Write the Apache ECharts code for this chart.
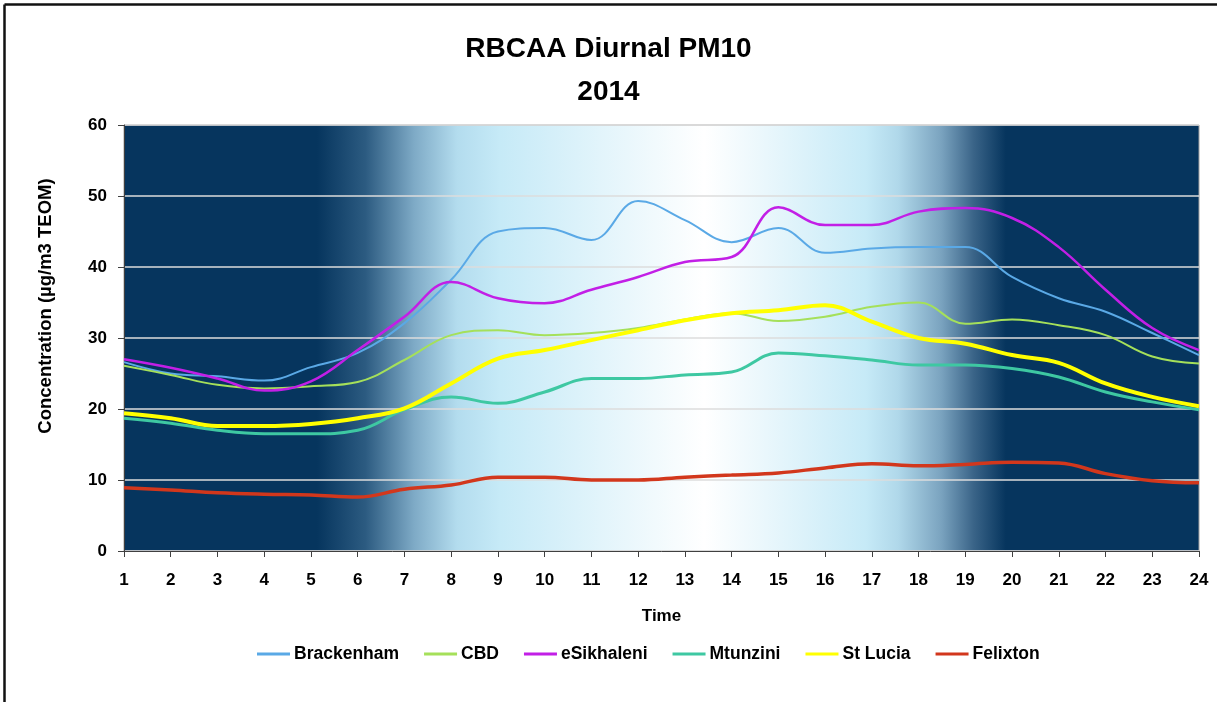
<!DOCTYPE html>
<html>
<head>
<meta charset="utf-8">
<style>
  html, body { margin: 0; padding: 0; background: #fff; }
  #chart { width: 1217px; height: 702px; }
</style>
<script src="https://cdn.jsdelivr.net/npm/echarts@6/dist/echarts.min.js"></script>
</head>
<body>
<div id="chart"></div>
<script>
var hours = ['1','2','3','4','5','6','7','8','9','10','11','12','13','14','15','16','17','18','19','20','21','22','23','24'];

var brackenham = [26.6, 25.0, 24.6, 24.0, 25.9, 27.9, 32.1, 38.2, 45.0, 45.5, 43.8, 49.3, 46.6, 43.5, 45.5, 42.0, 42.6, 42.8, 42.8, 38.6, 35.6, 33.7, 30.7, 27.6];
var cbd = [26.1, 24.8, 23.4, 22.9, 23.2, 23.8, 26.9, 30.4, 31.1, 30.4, 30.7, 31.4, 32.6, 33.5, 32.4, 33.0, 34.4, 35.0, 32.0, 32.6, 31.8, 30.4, 27.4, 26.4];
var esikhaleni = [27.0, 25.8, 24.3, 22.6, 23.9, 28.3, 33.0, 37.9, 35.6, 34.9, 36.8, 38.6, 40.7, 41.4, 48.4, 45.9, 45.9, 47.8, 48.3, 46.9, 42.8, 36.8, 31.4, 28.3];
var mtunzini = [18.7, 18.0, 17.0, 16.5, 16.5, 17.0, 19.9, 21.7, 20.8, 22.4, 24.3, 24.3, 24.8, 25.2, 27.9, 27.5, 26.9, 26.2, 26.2, 25.7, 24.5, 22.4, 21.0, 19.9];
var stLucia = [19.4, 18.7, 17.6, 17.6, 17.9, 18.7, 20.1, 23.6, 27.1, 28.3, 29.7, 31.1, 32.5, 33.5, 33.9, 34.6, 32.3, 30.0, 29.2, 27.6, 26.5, 23.6, 21.7, 20.4];
var felixton = [8.9, 8.6, 8.2, 8.0, 7.9, 7.6, 8.7, 9.3, 10.4, 10.4, 10.0, 10.0, 10.4, 10.7, 11.0, 11.7, 12.3, 12.0, 12.2, 12.5, 12.4, 10.9, 9.9, 9.6];

var seriesNames = ['Brackenham', 'CBD', 'eSikhaleni', 'Mtunzini', 'St Lucia', 'Felixton'];
var seriesData = [brackenham, cbd, esikhaleni, mtunzini, stLucia, felixton];
var seriesColors = ['#5aa9e6', '#a5e05a', '#c21fe6', '#3ec8a2', '#ffff00', '#d2371c'];
var seriesWidths = [2, 2, 2.5, 3, 4, 3.5];

var font = "'Liberation Sans', Arial, sans-serif";

var chart = echarts.init(document.getElementById('chart'));

// day/night shading behind the plot
var skyGradient = new echarts.graphic.LinearGradient(0, 0, 1, 0, [
    { offset: 0, color: '#06355e' },
    { offset: 0.18, color: '#06355e' },
    { offset: 0.225, color: '#2c5b81' },
    { offset: 0.27, color: '#7eaac6' },
    { offset: 0.31, color: '#b3dcee' },
    { offset: 0.35, color: '#c6eaf7' },
    { offset: 0.54, color: '#ffffff' },
    { offset: 0.69, color: '#c6eaf7' },
    { offset: 0.72, color: '#b0d8ea' },
    { offset: 0.76, color: '#7aa3bf' },
    { offset: 0.79, color: '#3a6488' },
    { offset: 0.82, color: '#06355e' },
    { offset: 1, color: '#06355e' }
]);

var series = seriesNames.map(function (name, i) {
    return {
        name: name,
        type: 'line',
        data: seriesData[i],
        smooth: 0.4,
        symbol: 'none',
        lineStyle: { color: seriesColors[i], width: seriesWidths[i] },
        itemStyle: { color: seriesColors[i] }
    };
});

var option = {
    animation: false,
    title: {
        text: 'RBCAA Diurnal PM10\n2014',
        left: 'center',
        top: 23,
        textStyle: {
            fontFamily: font,
            fontSize: 28,
            fontWeight: 'bold',
            color: '#000',
            lineHeight: 43
        }
    },
    legend: {
        data: seriesNames.map(function (n) { return { name: n, icon: 'rect' }; }),
        left: 252,
        top: 640,
        itemWidth: 33,
        itemHeight: 3,
        itemGap: 25,
        textStyle: { fontFamily: font, fontSize: 17.5, fontWeight: 'bold', color: '#000', padding: [0, 0, 0, -1] }
    },
    grid: {
        left: 124,
        right: 18,
        top: 125,
        bottom: 151,
        show: true,
        backgroundColor: skyGradient,
        borderColor: '#a0a0a0',
        borderWidth: 1
    },
    xAxis: {
        type: 'category',
        data: hours,
        boundaryGap: false,
        name: 'Time',
        nameLocation: 'middle',
        nameGap: 57,
        nameTextStyle: { fontFamily: font, fontSize: 17, fontWeight: 'bold', color: '#000' },
        axisLine: { lineStyle: { color: '#404040', width: 1 } },
        axisTick: { inside: false, length: 6, lineStyle: { color: '#404040' } },
        axisLabel: { fontFamily: font, fontSize: 17, fontWeight: 'bold', color: '#000', margin: 21 },
        splitLine: { show: false }
    },
    yAxis: {
        type: 'value',
        min: 0,
        max: 60,
        interval: 10,
        axisLine: { show: true, lineStyle: { color: '#404040', width: 1 } },
        axisTick: { show: true, length: 6, lineStyle: { color: '#404040' } },
        axisLabel: { fontFamily: font, fontSize: 17, fontWeight: 'bold', color: '#000', margin: 17 },
        splitLine: { lineStyle: { color: '#dcdcdc', width: 1.5 } }
    },
    graphic: [
        {
            type: 'text',
            x: 46,
            y: 306,
            rotation: Math.PI / 2,
            style: {
                text: 'Concentration (µg/m3 TEOM)',
                fontFamily: font,
                fontSize: 18.5,
                fontWeight: 'bold',
                fill: '#000',
                align: 'center',
                verticalAlign: 'middle'
            }
        },
        // photo frame edges
        { type: 'line', shape: { x1: 4.5, y1: 4.5, x2: 1217, y2: 4.5 }, style: { stroke: '#111', lineWidth: 2.5 } },
        { type: 'line', shape: { x1: 4.5, y1: 4.5, x2: 4.5, y2: 702 }, style: { stroke: '#111', lineWidth: 2.5 } }
    ],
    series: series
};

chart.setOption(option);
</script>
</body>
</html>
